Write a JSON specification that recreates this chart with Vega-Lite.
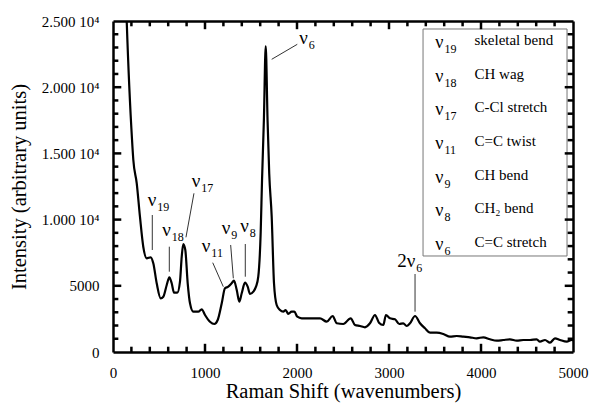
{
  "$schema": "https://vega.github.io/schema/vega-lite/v6.json",
  "width": 460,
  "height": 331,
  "autosize": {"type": "none"},
  "padding": {"left": 113, "top": 21, "right": 16, "bottom": 56},
  "config": {
    "view": {"stroke": null},
    "font": "Liberation Serif, Times New Roman, DejaVu Serif, serif",
    "text": {"font": "Liberation Serif, Times New Roman, DejaVu Serif, serif"},
    "axis": {
      "grid": false,
      "domainColor": "black",
      "domainWidth": 2.5,
      "labelFont": "Liberation Serif, Times New Roman, DejaVu Serif, serif",
      "labelFontSize": 15,
      "labelColor": "black",
      "labelOverlap": false,
      "labelFlush": false,
      "titleFont": "Liberation Serif, Times New Roman, DejaVu Serif, serif",
      "titleFontSize": 20.5,
      "titleFontWeight": "normal",
      "titleColor": "black"
    }
  },
  "datasets": {
    "spectrum": [
      {"wn": 135, "I": 28000}, {"wn": 149, "I": 25000}, {"wn": 207, "I": 16012}, {"wn": 221, "I": 14502},
      {"wn": 258, "I": 12742}, {"wn": 293, "I": 10219}, {"wn": 329, "I": 7953}, {"wn": 366, "I": 7077},
      {"wn": 410, "I": 7153}, {"wn": 438, "I": 6700}, {"wn": 475, "I": 5189}, {"wn": 518, "I": 4056},
      {"wn": 547, "I": 4177}, {"wn": 584, "I": 5060}, {"wn": 612, "I": 5642}, {"wn": 638, "I": 5189},
      {"wn": 663, "I": 4479}, {"wn": 699, "I": 4479}, {"wn": 728, "I": 5310}, {"wn": 747, "I": 7198},
      {"wn": 764, "I": 8157}, {"wn": 786, "I": 7704}, {"wn": 812, "I": 5189}, {"wn": 837, "I": 3678},
      {"wn": 873, "I": 3044}, {"wn": 927, "I": 3044}, {"wn": 964, "I": 3225}, {"wn": 1000, "I": 2795},
      {"wn": 1054, "I": 2289}, {"wn": 1101, "I": 2115}, {"wn": 1138, "I": 2417}, {"wn": 1182, "I": 3678},
      {"wn": 1217, "I": 4811}, {"wn": 1253, "I": 4932}, {"wn": 1290, "I": 5189}, {"wn": 1315, "I": 5385},
      {"wn": 1345, "I": 4683}, {"wn": 1373, "I": 3799}, {"wn": 1399, "I": 4434}, {"wn": 1435, "I": 5234},
      {"wn": 1464, "I": 4932}, {"wn": 1489, "I": 4381}, {"wn": 1525, "I": 4554}, {"wn": 1554, "I": 4932},
      {"wn": 1579, "I": 5687}, {"wn": 1605, "I": 8965}, {"wn": 1620, "I": 13000}, {"wn": 1640, "I": 17500},
      {"wn": 1660, "I": 23100}, {"wn": 1680, "I": 17500}, {"wn": 1698, "I": 13500}, {"wn": 1725, "I": 10219},
      {"wn": 1750, "I": 5189}, {"wn": 1779, "I": 3550}, {"wn": 1815, "I": 3172}, {"wn": 1851, "I": 3044},
      {"wn": 1877, "I": 3172}, {"wn": 1905, "I": 2870}, {"wn": 1942, "I": 3044}, {"wn": 1971, "I": 3044},
      {"wn": 2003, "I": 2666}, {"wn": 2051, "I": 2545}, {"wn": 2141, "I": 2545}, {"wn": 2250, "I": 2545},
      {"wn": 2323, "I": 2289}, {"wn": 2388, "I": 2719}, {"wn": 2432, "I": 2168}, {"wn": 2503, "I": 2115},
      {"wn": 2584, "I": 2545}, {"wn": 2630, "I": 2039}, {"wn": 2685, "I": 1964}, {"wn": 2739, "I": 1866},
      {"wn": 2793, "I": 2168}, {"wn": 2848, "I": 2795}, {"wn": 2891, "I": 2213}, {"wn": 2938, "I": 2039},
      {"wn": 2967, "I": 2795}, {"wn": 3011, "I": 2545}, {"wn": 3065, "I": 2470}, {"wn": 3112, "I": 2115},
      {"wn": 3155, "I": 2168}, {"wn": 3192, "I": 1964}, {"wn": 3228, "I": 2168}, {"wn": 3283, "I": 2719},
      {"wn": 3337, "I": 2168}, {"wn": 3391, "I": 1790}, {"wn": 3446, "I": 1458}, {"wn": 3518, "I": 1458},
      {"wn": 3590, "I": 1360}, {"wn": 3663, "I": 1156}, {"wn": 3736, "I": 1208}, {"wn": 3808, "I": 1156},
      {"wn": 3880, "I": 1110}, {"wn": 3953, "I": 1035}, {"wn": 4025, "I": 1110}, {"wn": 4098, "I": 959},
      {"wn": 4171, "I": 853}, {"wn": 4242, "I": 906}, {"wn": 4315, "I": 959}, {"wn": 4388, "I": 853},
      {"wn": 4460, "I": 906}, {"wn": 4533, "I": 906}, {"wn": 4605, "I": 959}, {"wn": 4641, "I": 778},
      {"wn": 4696, "I": 906}, {"wn": 4750, "I": 702}, {"wn": 4804, "I": 1035}, {"wn": 4859, "I": 906},
      {"wn": 4932, "I": 778}, {"wn": 4986, "I": 906}, {"wn": 5000, "I": 850}
    ],
    "leaders": [
      {"x": 427, "x2": 427, "y": 10347, "y2": 7704},
      {"x": 612, "x2": 612, "y": 7953, "y2": 6065},
      {"x": 880, "x2": 793, "y": 11986, "y2": 8663},
      {"x": 1084, "x2": 1199, "y": 6745, "y2": 4932},
      {"x": 1279, "x2": 1308, "y": 8082, "y2": 5566},
      {"x": 1438, "x2": 1438, "y": 8157, "y2": 5687},
      {"x": 2003, "x2": 1725, "y": 23240, "y2": 22107},
      {"x": 3283, "x2": 3283, "y": 5891, "y2": 3044}
    ],
    "labels": [
      {"x": 471, "y": 11027, "b": "ν", "s": "19"},
      {"x": 628, "y": 8761, "b": "ν", "s": "18"},
      {"x": 949, "y": 12485, "b": "ν", "s": "17"},
      {"x": 1058, "y": 7576, "b": "ν", "s": "11"},
      {"x": 1275, "y": 8912, "b": "ν", "s": "9"},
      {"x": 1476, "y": 9086, "b": "ν", "s": "8"},
      {"x": 2117, "y": 23263, "b": "ν", "s": "6"},
      {"x": 3286, "y": 6443, "b": "2ν", "s": "6"}
    ],
    "box": [{"x": 3370, "x2": 4935, "y": 24396, "y2": 7251}],
    "legend": [
      {"x": 3592, "y": 22961, "b": "ν", "s": "19", "d": "skeletal bend"},
      {"x": 3592, "y": 20416, "b": "ν", "s": "18", "d": "CH wag"},
      {"x": 3592, "y": 17874, "b": "ν", "s": "17", "d": "C-Cl stretch"},
      {"x": 3592, "y": 15332, "b": "ν", "s": "11", "d": "C=C twist"},
      {"x": 3592, "y": 12787, "b": "ν", "s": "9", "d": "CH bend"},
      {"x": 3592, "y": 10242, "b": "ν", "s": "8", "d": "CH₂ bend"},
      {"x": 3592, "y": 7704, "b": "ν", "s": "6", "d": "C=C stretch"}
    ],
    "xmaj": [{"v": 1000}, {"v": 2000}, {"v": 3000}, {"v": 4000}],
    "xmin": [{"v": 200}, {"v": 400}, {"v": 600}, {"v": 800}, {"v": 1200}, {"v": 1400}, {"v": 1600}, {"v": 1800},
             {"v": 2200}, {"v": 2400}, {"v": 2600}, {"v": 2800}, {"v": 3200}, {"v": 3400}, {"v": 3600}, {"v": 3800},
             {"v": 4200}, {"v": 4400}, {"v": 4600}, {"v": 4800}],
    "ymaj": [{"v": 5000}, {"v": 10000}, {"v": 15000}, {"v": 20000}],
    "ymin": [{"v": 1000}, {"v": 2000}, {"v": 3000}, {"v": 4000}, {"v": 6000}, {"v": 7000}, {"v": 8000}, {"v": 9000},
             {"v": 11000}, {"v": 12000}, {"v": 13000}, {"v": 14000}, {"v": 16000}, {"v": 17000}, {"v": 18000}, {"v": 19000},
             {"v": 21000}, {"v": 22000}, {"v": 23000}, {"v": 24000}]
  },
  "layer": [
    {
      "data": {"name": "box"},
      "mark": {"type": "rect", "fill": "white", "stroke": "#777777", "strokeWidth": 1},
      "encoding": {
        "x": {"field": "x", "type": "quantitative", "scale": {"domain": [0, 5000], "nice": false},
          "axis": {"orient": "top", "title": null, "labels": false, "ticks": false, "domain": true, "values": [0, 5000]}},
        "x2": {"field": "x2"},
        "y": {"field": "y", "type": "quantitative", "scale": {"domain": [0, 25000], "nice": false},
          "axis": {"orient": "right", "title": null, "labels": false, "ticks": false, "domain": true, "values": [0, 25000]}},
        "y2": {"field": "y2"}
      }
    },
    {
      "data": {"name": "xmaj"},
      "mark": {"type": "rule", "color": "black", "strokeWidth": 2.5},
      "encoding": {
        "x": {"field": "v", "type": "quantitative", "scale": {"domain": [0, 5000], "nice": false}, "axis": null},
        "y": {"datum": 0, "type": "quantitative", "scale": {"domain": [0, 25000], "nice": false}, "axis": null},
        "y2": {"datum": 620}
      }
    },
    {
      "data": {"name": "xmaj"},
      "mark": {"type": "rule", "color": "black", "strokeWidth": 2.5},
      "encoding": {
        "x": {"field": "v", "type": "quantitative", "scale": {"domain": [0, 5000], "nice": false}, "axis": null},
        "y": {"datum": 25000, "type": "quantitative", "scale": {"domain": [0, 25000], "nice": false}, "axis": null},
        "y2": {"datum": 24380}
      }
    },
    {
      "data": {"name": "xmin"},
      "mark": {"type": "rule", "color": "black", "strokeWidth": 2.5},
      "encoding": {
        "x": {"field": "v", "type": "quantitative", "scale": {"domain": [0, 5000], "nice": false}, "axis": null},
        "y": {"datum": 0, "type": "quantitative", "scale": {"domain": [0, 25000], "nice": false}, "axis": null},
        "y2": {"datum": 400}
      }
    },
    {
      "data": {"name": "xmin"},
      "mark": {"type": "rule", "color": "black", "strokeWidth": 2.5},
      "encoding": {
        "x": {"field": "v", "type": "quantitative", "scale": {"domain": [0, 5000], "nice": false}, "axis": null},
        "y": {"datum": 25000, "type": "quantitative", "scale": {"domain": [0, 25000], "nice": false}, "axis": null},
        "y2": {"datum": 24600}
      }
    },
    {
      "data": {"name": "ymaj"},
      "mark": {"type": "rule", "color": "black", "strokeWidth": 2.5},
      "encoding": {
        "y": {"field": "v", "type": "quantitative", "scale": {"domain": [0, 25000], "nice": false}, "axis": null},
        "x": {"datum": 0, "type": "quantitative", "scale": {"domain": [0, 5000], "nice": false}, "axis": null},
        "x2": {"datum": 90}
      }
    },
    {
      "data": {"name": "ymaj"},
      "mark": {"type": "rule", "color": "black", "strokeWidth": 2.5},
      "encoding": {
        "y": {"field": "v", "type": "quantitative", "scale": {"domain": [0, 25000], "nice": false}, "axis": null},
        "x": {"datum": 5000, "type": "quantitative", "scale": {"domain": [0, 5000], "nice": false}, "axis": null},
        "x2": {"datum": 4910}
      }
    },
    {
      "data": {"name": "ymin"},
      "mark": {"type": "rule", "color": "black", "strokeWidth": 2.5},
      "encoding": {
        "y": {"field": "v", "type": "quantitative", "scale": {"domain": [0, 25000], "nice": false}, "axis": null},
        "x": {"datum": 0, "type": "quantitative", "scale": {"domain": [0, 5000], "nice": false}, "axis": null},
        "x2": {"datum": 58}
      }
    },
    {
      "data": {"name": "ymin"},
      "mark": {"type": "rule", "color": "black", "strokeWidth": 2.5},
      "encoding": {
        "y": {"field": "v", "type": "quantitative", "scale": {"domain": [0, 25000], "nice": false}, "axis": null},
        "x": {"datum": 5000, "type": "quantitative", "scale": {"domain": [0, 5000], "nice": false}, "axis": null},
        "x2": {"datum": 4942}
      }
    },
    {
      "data": {"name": "spectrum"},
      "mark": {"type": "line", "color": "black", "strokeWidth": 2.2, "interpolate": "monotone", "clip": true},
      "encoding": {
        "x": {"field": "wn", "type": "quantitative", "scale": {"domain": [0, 5000], "nice": false},
          "axis": {"orient": "bottom", "title": "Raman Shift (wavenumbers)", "titlePadding": 1, "labelPadding": 13,
            "ticks": false, "values": [0, 1000, 2000, 3000, 4000, 5000], "format": "d"}},
        "y": {"field": "I", "type": "quantitative", "scale": {"domain": [0, 25000], "nice": false},
          "axis": {"orient": "left", "title": "Intensity (arbitrary units)", "titlePadding": 12, "labelPadding": 14,
            "ticks": false, "values": [0, 5000, 10000, 15000, 20000, 25000],
            "labelExpr": "datum.value === 0 ? '0' : datum.value === 5000 ? '5000' : format(datum.value / 10000, '.3f') + ' 10⁴'"}}
      }
    },
    {
      "data": {"name": "leaders"},
      "mark": {"type": "rule", "color": "#333333", "strokeWidth": 1},
      "encoding": {
        "x": {"field": "x", "type": "quantitative", "scale": {"domain": [0, 5000], "nice": false}, "axis": null},
        "x2": {"field": "x2"},
        "y": {"field": "y", "type": "quantitative", "scale": {"domain": [0, 25000], "nice": false}, "axis": null},
        "y2": {"field": "y2"}
      }
    },
    {
      "data": {"name": "labels"},
      "mark": {"type": "text", "align": "right", "baseline": "alphabetic", "fontSize": 19, "color": "black"},
      "encoding": {
        "x": {"field": "x", "type": "quantitative", "scale": {"domain": [0, 5000], "nice": false}, "axis": null},
        "y": {"field": "y", "type": "quantitative", "scale": {"domain": [0, 25000], "nice": false}, "axis": null},
        "text": {"field": "b"}
      }
    },
    {
      "data": {"name": "labels"},
      "mark": {"type": "text", "align": "left", "baseline": "alphabetic", "fontSize": 12, "dy": 5, "dx": 1, "color": "black"},
      "encoding": {
        "x": {"field": "x", "type": "quantitative", "scale": {"domain": [0, 5000], "nice": false}, "axis": null},
        "y": {"field": "y", "type": "quantitative", "scale": {"domain": [0, 25000], "nice": false}, "axis": null},
        "text": {"field": "s"}
      }
    },
    {
      "data": {"name": "legend"},
      "mark": {"type": "text", "align": "right", "baseline": "alphabetic", "fontSize": 18, "color": "black"},
      "encoding": {
        "x": {"field": "x", "type": "quantitative", "scale": {"domain": [0, 5000], "nice": false}, "axis": null},
        "y": {"field": "y", "type": "quantitative", "scale": {"domain": [0, 25000], "nice": false}, "axis": null},
        "text": {"field": "b"}
      }
    },
    {
      "data": {"name": "legend"},
      "mark": {"type": "text", "align": "left", "baseline": "alphabetic", "fontSize": 12, "dy": 5, "dx": 1, "color": "black"},
      "encoding": {
        "x": {"field": "x", "type": "quantitative", "scale": {"domain": [0, 5000], "nice": false}, "axis": null},
        "y": {"field": "y", "type": "quantitative", "scale": {"domain": [0, 25000], "nice": false}, "axis": null},
        "text": {"field": "s"}
      }
    },
    {
      "data": {"name": "legend"},
      "mark": {"type": "text", "align": "left", "baseline": "alphabetic", "fontSize": 15, "dx": 31, "dy": -3, "color": "black"},
      "encoding": {
        "x": {"field": "x", "type": "quantitative", "scale": {"domain": [0, 5000], "nice": false}, "axis": null},
        "y": {"field": "y", "type": "quantitative", "scale": {"domain": [0, 25000], "nice": false}, "axis": null},
        "text": {"field": "d"}
      }
    }
  ],
  "resolve": {"axis": {"x": "independent", "y": "independent"}}
}
